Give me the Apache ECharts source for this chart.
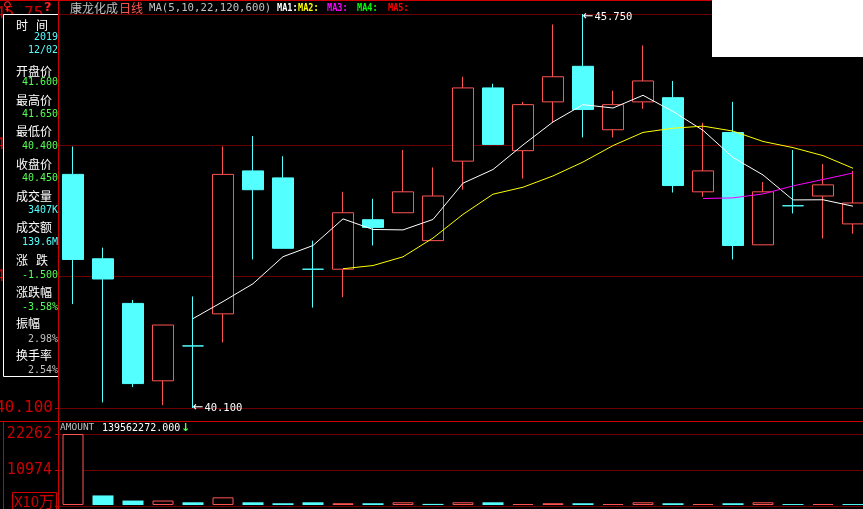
<!DOCTYPE html>
<html><head><meta charset="utf-8">
<script src="https://cdn.jsdelivr.net/npm/echarts@6/dist/echarts.min.js"></script>
<style>html,body{margin:0;padding:0;background:#000;}#c{width:863px;height:509px;}</style>
</head><body><div id="c"></div>
<script>
// ---------- data ----------
const dates = ['2019-11-28','2019-11-29','2019-12-02','2019-12-03','2019-12-04','2019-12-05','2019-12-06','2019-12-09','2019-12-10','2019-12-11','2019-12-12','2019-12-13','2019-12-16','2019-12-17','2019-12-18','2019-12-19','2019-12-20','2019-12-23','2019-12-24','2019-12-25','2019-12-26','2019-12-27','2019-12-30','2019-12-31','2020-01-02','2020-01-03','2020-01-06'];
const opens  = [43.45,42.24,41.60,40.49,40.99,41.45,43.50,43.40,42.09,42.09,42.80,42.90,42.50,43.64,44.69,43.79,44.49,45.00,44.09,44.49,44.55,43.20,44.05,42.44,43.00,43.14,42.74];
const closes = [42.23,41.95,40.45,41.29,40.99,43.45,43.23,42.39,42.09,42.90,42.69,43.20,43.14,44.69,43.88,44.45,44.85,44.38,44.45,44.79,43.29,43.50,42.43,43.20,43.00,43.30,43.04];
const lows   = [41.59,40.18,40.40,40.14,40.10,41.04,42.23,42.39,41.54,41.69,42.43,42.90,42.50,43.23,43.88,43.39,44.19,43.98,43.98,44.39,43.19,43.13,42.23,42.44,42.89,42.53,42.60];
const highs  = [43.85,42.40,41.65,41.29,41.70,43.85,44.00,43.71,42.50,43.20,43.10,43.80,43.55,44.85,44.75,44.49,45.60,45.75,44.65,45.30,44.79,44.19,44.49,43.34,43.80,43.60,43.50];
const ma5  = ['-','-','-','-',41.382,41.626,41.882,42.270,42.430,42.812,42.660,42.654,42.804,43.324,43.520,43.872,44.202,44.450,44.402,44.584,44.352,44.082,43.692,43.442,43.084,43.086,42.994];
const ma10 = ['-','-','-','-','-','-','-','-','-',42.097,42.143,42.268,42.537,42.877,43.166,43.266,43.428,43.627,43.863,44.052,44.112,44.142,44.071,43.922,43.834,43.719,43.538];
const ma22 = ['-','-','-','-','-','-','-','-','-','-','-','-','-','-','-','-','-','-','-','-','-',43.104,43.113,43.170,43.285,43.377,43.470];
const amounts = [22262,3000,1396,1400,850,2400,850,550,850,550,550,850,350,850,850,300,550,550,300,850,550,300,550,850,300,300,300]; // x10万
const priceTicks = [40.1, 45.75];
const volTicks = [-314, 10974, 22262];
const infoLabels = ['时','间','开盘价','最高价','最低价','收盘价','成交量','成交额','涨','跌','涨跌幅','振幅','换手率'];
const infoValues = ['2019','12/02','41.600','41.650','40.400','40.450','3407K','139.6M','-1.500','-3.58%','2.98%','2.54%'];
const titleName = '康龙化成', titlePeriod = '日线', titleMA = 'MA(5,10,22,120,600)';
const maNames = ['MA1:','MA2:','MA3:','MA4:','MA5:'];
const amountLabel = 'AMOUNT', amountValue = '139562272.000';

// ---------- styles ----------
const MONO = '"DejaVu Sans Mono","Liberation Mono",monospace';
const CJK = '"Noto Sans CJK SC","Noto Sans",sans-serif';
const RED = '#cc0000', GRIDRED = '#6a0000', UP = '#ff5454', DOWN = '#54ffff', GREEN = '#54ff54', GRAY = '#c0c0c0';

const chart = echarts.init(document.getElementById('c'), null, {renderer: 'canvas'});

const candleData = dates.map((d, i) => [opens[i], closes[i], lows[i], highs[i]]);
const volData = amounts.map((v, i) => {
  const up = i === 0 || closes[i] >= closes[i - 1];
  return {value: v, itemStyle: up ? {color: '#000', borderColor: UP, borderWidth: 1} : {color: DOWN, borderWidth: 0}};
});
let hiIdx = 0, loIdx = 0;
highs.forEach((h, i) => { if (h > highs[hiIdx]) hiIdx = i; });
lows.forEach((l, i) => { if (l < lows[loIdx]) loIdx = i; });

const catAxis = (gi) => ({type: 'category', gridIndex: gi, data: dates, boundaryGap: true,
  axisLine: {show: false}, axisTick: {show: false}, axisLabel: {show: false}, splitLine: {show: false}});

const arrowLabel = (txt, dy) => ({show: true, position: 'right', distance: 0, offset: [-1, dy],
  formatter: '{a|←}{t|' + txt + '}',
  rich: {a: {fontFamily: '"DejaVu Sans",sans-serif', fontSize: 13, color: '#fff', padding: [0, 1, 0, 0]},
         t: {fontFamily: MONO, fontSize: 10.5, color: '#fff'}}});

// graphic elements
const g = [];
const line = (x1, y1, x2, y2, c) => g.push({type: 'line', z: 120, shape: {x1, y1, x2, y2}, style: {stroke: c, lineWidth: 1}, silent: true});
line(0, 0.5, 863, 0.5, RED);
line(0, 421.5, 863, 421.5, RED);
line(58.5, 0, 58.5, 509, RED);
line(3.5, 421, 3.5, 509, RED);
g.push({type: 'rect', z: 120, shape: {x: 12.5, y: 492.5, width: 44, height: 20}, style: {fill: 'none', stroke: RED, lineWidth: 1}});
g.push({type: 'text', z: 121, x: 34, y: 501, style: {text: 'X10万', fill: RED, font: '15px ' + CJK, textAlign: 'center', textVerticalAlign: 'middle'}});
// info panel
g.push({type: 'rect', z: 110, shape: {x: 3.5, y: 14.5, width: 55, height: 362}, style: {fill: '#000', stroke: '#fff', lineWidth: 1}});
const labX = [16, 36, 16, 16, 16, 16, 16, 16, 16, 36, 16, 16, 16];
const labY = [25, 25, 71.5, 100.5, 131.5, 164.5, 196.5, 227.5, 260.5, 260.5, 292.5, 323.5, 355.5];
infoLabels.forEach((t, i) => g.push({type: 'text', z: 111, x: labX[i], y: labY[i],
  style: {text: t, fill: '#fff', font: '12px ' + CJK, textAlign: 'left', textVerticalAlign: 'middle'}}));
const valY = [37.5, 50, 82.5, 114.5, 146.5, 178, 210.5, 242, 275, 307, 339.5, 370.5];
const valC = [DOWN, DOWN, GREEN, GREEN, GREEN, GREEN, DOWN, DOWN, GREEN, GREEN, GRAY, GRAY];
infoValues.forEach((t, i) => g.push({type: 'text', z: 111, x: 58, y: valY[i],
  style: {text: t, fill: valC[i], font: '10px ' + MONO, textAlign: 'right', textVerticalAlign: 'middle'}}));
// top-left icons
g.push({type: 'text', z: 121, x: 3, y: 7, style: {text: '♀', fill: '#ff2020', font: 'bold 12px "DejaVu Sans"', textVerticalAlign: 'middle'}});
g.push({type: 'rect', z: 120, shape: {x: 42, y: 1, width: 14, height: 13}, style: {fill: '#000'}});
g.push({type: 'text', z: 121, x: 44, y: 7.5, style: {text: '?', fill: '#ff2020', font: 'bold 13px "DejaVu Sans"', textVerticalAlign: 'middle'}});
// title
g.push({type: 'text', z: 121, x: 70, y: 8, style: {text: titleName, fill: GRAY, font: '12px ' + CJK, textVerticalAlign: 'middle'}});
g.push({type: 'text', z: 121, x: 119, y: 8, style: {text: titlePeriod, fill: UP, font: '12px ' + CJK, textVerticalAlign: 'middle'}});
g.push({type: 'text', z: 121, x: 149, y: 8, style: {text: titleMA, fill: GRAY, font: '10.7px ' + MONO, textVerticalAlign: 'middle'}});
const maX = [277, 298, 327, 357, 388];
const maC = ['#ffffff', '#ffff00', '#ff00ff', '#00ff00', '#ff0000'];
maNames.forEach((t, i) => g.push({type: 'text', z: 121, x: maX[i], y: 8, scaleX: 0.78,
  style: {text: t, fill: maC[i], font: 'bold 11px ' + MONO, textVerticalAlign: 'middle'}}));
// amount readout
g.push({type: 'text', z: 121, x: 60, y: 428, style: {text: amountLabel, fill: GRAY, font: '9.5px ' + MONO, textVerticalAlign: 'middle'}});
g.push({type: 'text', z: 121, x: 102, y: 428, style: {text: amountValue, fill: '#fff', font: '10px ' + MONO, textVerticalAlign: 'middle'}});
g.push({type: 'text', z: 121, x: 181, y: 428, style: {text: '↓', fill: GREEN, font: 'bold 11px "DejaVu Sans"', textVerticalAlign: 'middle'}});
// white box top right
g.push({type: 'rect', z: 130, shape: {x: 712, y: 0, width: 151, height: 57}, style: {fill: '#fff'}});

const option = {
  backgroundColor: '#000',
  animation: false,
  grid: [
    {left: 58, width: 810, top: 14, height: 394, outerBoundsMode: 'none', containLabel: false},
    {left: 58, width: 810, top: 434, height: 72, outerBoundsMode: 'none', containLabel: false}
  ],
  xAxis: [catAxis(0), catAxis(1)],
  yAxis: [
    {type: 'value', gridIndex: 0, min: priceTicks[0], max: priceTicks[1], interval: (priceTicks[1] - priceTicks[0]) / 3,
     axisLine: {show: false}, axisTick: {show: true, length: 3, lineStyle: {color: RED}},
     axisLabel: {color: RED, fontFamily: MONO, fontSize: 16, margin: 5, formatter: v => v.toFixed(3)},
     splitLine: {show: true, lineStyle: {color: GRIDRED, width: 1}}},
    {type: 'value', gridIndex: 1, min: volTicks[0], max: volTicks[2], interval: volTicks[1] - volTicks[0],
     axisLine: {show: false}, axisTick: {show: true, length: 3, lineStyle: {color: RED}},
     axisLabel: {color: RED, fontFamily: MONO, fontSize: 15, margin: 6, formatter: v => v < 0 ? '' : String(Math.round(v))},
     splitLine: {show: true, lineStyle: {color: GRIDRED, width: 1}}}
  ],
  series: [
    {type: 'candlestick', xAxisIndex: 0, yAxisIndex: 0, data: candleData, barWidth: 21, z: 2,
     itemStyle: {color: '#000', color0: DOWN, borderColor: UP, borderColor0: DOWN, borderWidth: 1},
     markPoint: {symbol: 'rect', symbolSize: 1, itemStyle: {color: 'rgba(0,0,0,0)'}, animation: false,
       data: [
         {coord: [hiIdx, highs[hiIdx]], label: arrowLabel(highs[hiIdx].toFixed(3), 3)},
         {coord: [loIdx, lows[loIdx]], label: arrowLabel(lows[loIdx].toFixed(3), 0)}
       ]}},
    {type: 'line', name: 'MA5', xAxisIndex: 0, yAxisIndex: 0, data: ma5, symbol: 'none', z: 3, lineStyle: {color: '#ffffff', width: 1}},
    {type: 'line', name: 'MA10', xAxisIndex: 0, yAxisIndex: 0, data: ma10, symbol: 'none', z: 3, lineStyle: {color: '#ffff00', width: 1}},
    {type: 'line', name: 'MA22', xAxisIndex: 0, yAxisIndex: 0, data: ma22, symbol: 'none', z: 3, lineStyle: {color: '#ff00ff', width: 1}},
    {type: 'bar', xAxisIndex: 1, yAxisIndex: 1, data: volData, barWidth: 21}
  ],
  graphic: {elements: g}
};
chart.setOption(option);
</script>
</body></html>
